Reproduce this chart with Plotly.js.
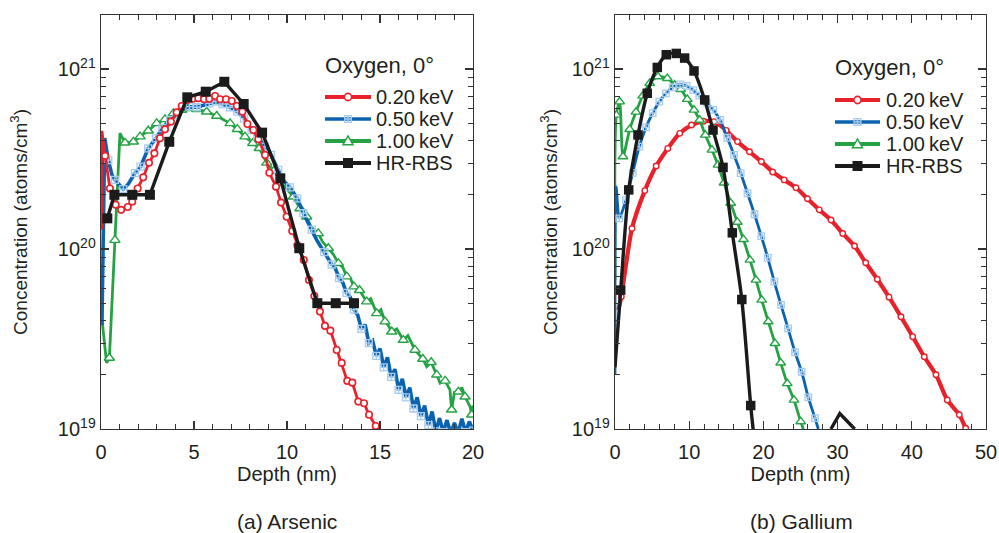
<!DOCTYPE html>
<html>
<head>
<meta charset="utf-8">
<script src="https://cdn.plot.ly/plotly-3.0.1.min.js"></script>
<style>
html,body{margin:0;padding:0;background:#ffffff;}
#chart{width:999px;height:533px;}
</style>
</head>
<body>
<div id="chart"></div>
<script>
// ---------------- DATA ----------------
// (a) Arsenic : depth (nm) and concentration (atoms/cm^3)
const asDepth020 = [0.03,0.05,0.22,0.48,0.79,1.08,1.44,1.68,1.97,2.27,2.58,2.87,3.17,3.44,3.76,4.07,4.34,4.64,4.93,5.23,5.54,5.82,6.13,6.40,6.72,7.03,7.30,7.60,7.87,8.19,8.46,8.82,9.05,9.41,9.68,9.98,10.28,10.56,10.90,11.18,11.47,11.77,12.04,12.33,12.67,12.94,13.24,13.51,13.83,14.14,14.41,14.77,14.96];
const asConc020 = [1.28e20,4.53e20,3.29e20,2.17e20,1.76e20,1.65e20,1.71e20,1.83e20,2.17e20,2.50e20,3.01e20,3.40e20,4.12e20,4.62e20,5.10e20,5.74e20,6.23e20,6.72e20,6.84e20,6.88e20,6.79e20,6.84e20,7.08e20,6.79e20,6.79e20,6.64e20,6.23e20,5.79e20,4.95e20,4.58e20,4.07e20,3.33e20,2.65e20,2.22e20,1.81e20,1.51e20,1.26e20,1.05e20,8.69e19,6.73e19,5.48e19,4.49e19,3.74e19,3.52e19,2.75e19,2.33e19,1.85e19,1.81e19,1.42e19,1.39e19,1.20e19,1.04e19,1.0e19];

const asDepth050 = [0.05,0.20,0.39,0.59,0.75,1.02,1.20,1.47,1.83,2.13,2.54,2.96,3.30,3.71,4.07,4.34,4.75,5.15,5.41,5.82,6.18,6.54,6.94,7.33,7.69,8.10,8.40,8.82,9.14,9.53,9.77,10.16,10.55,10.88,11.33,11.60,
  12.0,12.2,12.4,12.6,12.8,13.0,13.2,13.4,13.6,13.8,14.0,14.2,14.4,14.6,14.8,15.0,15.2,15.4,15.6,15.8,16.0,16.2,16.4,16.6,16.8,17.0,17.2,17.4,17.6,17.8,18.0,18.2,18.4,18.6,18.8,19.0,19.2,19.4,19.6,19.8,20.0];
const asConc050 = [3.78e19,4.14e20,3.12e20,2.58e20,2.42e20,2.27e20,2.15e20,2.30e20,2.64e20,2.87e20,3.62e20,4.12e20,4.69e20,5.21e20,5.55e20,5.92e20,6.18e20,6.13e20,6.23e20,6.44e20,6.58e20,6.39e20,6.13e20,5.79e20,5.32e20,4.58e20,4.24e20,3.70e20,3.33e20,2.75e20,2.42e20,2.20e20,1.91e20,1.58e20,1.28e20,1.12e20,
  9.6e19,8.9e19,8.2e19,7.8e19,6.9e19,6.5e19,5.7e19,5.4e19,4.6e19,4.3e19,3.6e19,3.8e19,3.0e19,3.1e19,2.55e19,2.8e19,2.2e19,2.5e19,1.95e19,2.15e19,1.65e19,1.9e19,1.5e19,1.7e19,1.3e19,1.5e19,1.18e19,1.35e19,1.05e19,1.25e19,0.97e19,1.15e19,0.96e19,1.12e19,0.95e19,1.08e19,0.95e19,1.14e19,0.96e19,1.1e19,0.98e19];

const asDepth100 = [0.05,0.30,0.45,0.75,1.02,1.29,1.74,2.10,2.54,2.99,3.44,3.89,4.34,4.69,5.15,5.68,6.22,6.94,7.33,7.74,8.16,8.51,8.91,9.30,9.72,10.34,10.70,
  11.06,11.30,11.68,11.90,12.22,12.50,12.76,13.00,13.21,13.40,13.60,13.90,14.28,14.50,14.82,15.05,15.27,15.45,15.63,15.90,16.25,16.50,16.88,17.10,17.30,17.51,17.75,18.05,18.23,18.50,18.76,18.85,19.00,19.21,19.40,19.57,19.84,19.93,20.0];
const asConc100 = [4.1e19,2.33e19,2.48e19,1.12e20,4.40e20,3.89e20,3.94e20,4.21e20,4.54e20,4.99e20,5.25e20,5.67e20,5.92e20,6.05e20,5.98e20,5.79e20,5.48e20,4.99e20,4.63e20,4.21e20,3.87e20,3.63e20,3.01e20,2.72e20,2.33e20,1.95e20,1.68e20,
  1.51e20,1.32e20,1.22e20,1.10e20,1.01e20,9.3e19,8.33e19,7.9e19,7.02e19,6.9e19,6.18e19,5.9e19,5.10e19,5.3e19,4.39e19,4.6e19,3.95e19,3.75e19,3.47e19,3.6e19,3.12e19,3.3e19,2.75e19,2.6e19,2.45e19,2.22e19,2.35e19,2.0e19,1.80e19,1.85e19,1.65e19,1.28e19,1.6e19,1.61e19,1.7e19,1.51e19,1.33e19,1.20e19,1.35e19];

const asDepthRBS = [0.34,0.72,1.68,2.63,3.67,4.64,5.63,6.63,7.67,8.66,9.64,10.66,11.63,12.62,13.60];
const asConcRBS  = [1.48e20,2.0e20,2.0e20,2.0e20,3.94e20,6.96e20,7.48e20,8.49e20,6.39e20,4.43e20,2.47e20,1.01e20,5.0e19,5.0e19,5.0e19];

// (b) Gallium
const gaDepth020 = [0.47,0.85,2.29,4.02,5.55,7.12,8.73,10.31,11.93,13.34,14.99,16.51,18.13,19.72,21.25,22.80,24.39,25.94,27.53,29.11,30.69,32.28,33.79,35.35,36.93,38.54,40.12,41.68,43.26,44.78,46.40,47.26];
const gaConc020  = [4.59e19,5.43e19,1.30e20,2.11e20,2.89e20,3.62e20,4.39e20,4.88e20,5.12e20,5.10e20,4.56e20,3.95e20,3.47e20,3.06e20,2.68e20,2.42e20,2.19e20,1.90e20,1.65e20,1.45e20,1.22e20,1.04e20,8.39e19,6.79e19,5.40e19,4.20e19,3.26e19,2.52e19,2.0e19,1.45e19,1.20e19,1.01e19];

const gaDepth050 = [0,0.16,0.58,1.48,2.39,3.27,4.18,5.08,5.97,6.87,7.78,8.76,9.66,10.55,11.36,12.36,13.25,14.15,15.13,16.04,16.94,17.86,18.80,19.72,20.58,21.47,22.37,23.32,24.26,25.16,26.05,26.95,27.40];
const gaConc050  = [2.02e19,2.21e20,1.48e20,1.87e20,2.65e20,3.70e20,4.74e20,5.68e20,6.58e20,7.32e20,7.91e20,8.22e20,8.05e20,7.64e20,7.11e20,6.50e20,5.92e20,5.21e20,4.15e20,3.33e20,2.64e20,2.04e20,1.56e20,1.18e20,8.95e19,6.58e19,4.89e19,3.62e19,2.67e19,2.08e19,1.50e19,1.15e19,1.0e19];

const gaDepth100 = [0,0.18,0.63,1.08,1.98,2.83,3.73,4.68,5.80,7.05,8.05,8.85,9.74,10.65,11.41,12.17,13.07,13.88,14.69,15.59,16.48,17.32,18.19,19.00,19.77,20.66,21.56,22.33,23.22,24.12,25.03,25.38];
const gaConc100  = [6.7e19,5.55e20,6.58e20,3.26e20,4.62e20,5.77e20,7.08e20,8.33e20,9.07e20,8.87e20,8.15e20,7.71e20,6.79e20,5.92e20,5.21e20,4.30e20,3.55e20,2.93e20,2.33e20,1.80e20,1.41e20,1.13e20,8.69e19,6.73e19,5.21e19,3.95e19,2.99e19,2.33e19,1.79e19,1.45e19,1.10e19,1.0e19];

const gaDepthRBS = [0,0.77,1.85,3.10,4.35,5.70,6.91,8.26,9.39,10.65,12.09,13.21,14.56,15.81,17.09,18.29,18.70];
const gaConcRBS  = [2.2e19,5.91e19,2.13e20,4.30e20,7.33e20,1.02e21,1.20e21,1.22e21,1.15e21,9.75e20,6.73e20,4.58e20,2.84e20,1.23e20,5.24e19,1.35e19,0.93e19];
const gaDepthRBSTail = [29.1,30.3,32.3];
const gaConcRBSTail  = [1.0e19,1.22e19,1.0e19];

const seriesNames = ['0.20\u2009keV','0.50\u2009keV','1.00\u2009keV','HR-RBS'];
const legendTitle = 'Oxygen, 0°';
const panelCaptions = ['(a) Arsenic','(b) Gallium'];
const xTicksAs = [0,5,10,15,20];
const xTicksGa = [0,10,20,30,40,50];
const yTickVals = [1e19,1e20,1e21];
const yTickText = ['10<sup>19</sup>','10<sup>20</sup>','10<sup>21</sup>'];

// ---------------- STYLE ----------------
const RED='#e8212b', BLUE='#0b63b0', GREEN='#25a244', BLACK='#1b1b1b', INK='#231f20', LIGHTBLUE='#a5cbef';
const FONT='"Liberation Sans", Arial, Helvetica, sans-serif';
const W=999, H=533;
const px=v=>v/W, py=v=>1-v/H;

function markerSubset(x, y, start, end, gap){
  const mx=[], my=[]; let last=-Infinity;
  for(let i=start;i<x.length-end;i++){
    if(x[i]-last>=gap-1e-9){ mx.push(x[i]); my.push(y[i]); last=x[i]; }
  }
  return [mx,my];
}
function series(x, y, xa, ya, st){
  const [mx,my]=markerSubset(x,y,st.start||0,st.end||0,st.gap||0);
  return [
    {type:'scatter',mode:'lines',x:x,y:y,xaxis:xa,yaxis:ya,showlegend:false,hoverinfo:'skip',
     line:{color:st.color,width:st.lw,shape:st.shape||'linear',smoothing:st.smooth||1}},
    {type:'scatter',mode:'markers',x:mx,y:my,xaxis:xa,yaxis:ya,showlegend:false,hoverinfo:'skip',
     marker:st.marker}
  ];
}

const stAs = [
  {color:RED,lw:2.8,start:2,gap:0.2,marker:{symbol:'circle',size:6.5,color:'#ffffff',line:{color:RED,width:1.6}}},
  {color:BLUE,lw:3.6,start:2,gap:0.3,marker:{symbol:'square-cross-open',size:7,color:LIGHTBLUE,line:{width:1.3}}},
  {color:GREEN,lw:2.8,start:2,gap:0.3,marker:{symbol:'triangle-up',size:9,color:'#ffffff',line:{color:GREEN,width:1.4}}},
  {color:BLACK,lw:3.4,start:0,gap:0,marker:{symbol:'square',size:10,color:BLACK}}
];
const stGa = [
  {color:RED,lw:4.2,start:1,end:0,gap:0,shape:'spline',smooth:0.7,marker:{symbol:'circle',size:5.5,color:'#ffffff',line:{color:RED,width:1.4}}},
  {color:BLUE,lw:2.8,start:2,end:1,gap:0,shape:'spline',smooth:0.7,marker:{symbol:'square-cross-open',size:6.5,color:LIGHTBLUE,line:{width:1.3}}},
  {color:GREEN,lw:2.8,start:1,end:1,gap:0,shape:'spline',smooth:0.7,marker:{symbol:'triangle-up',size:8.5,color:'#ffffff',line:{color:GREEN,width:1.4}}},
  {color:BLACK,lw:3.4,start:1,end:1,gap:0,shape:'spline',smooth:0.8,marker:{symbol:'square',size:9.5,color:BLACK}}
];

const asData = [[asDepth020,asConc020],[asDepth050,asConc050],[asDepth100,asConc100],[asDepthRBS,asConcRBS]];
const gaData = [[gaDepth020,gaConc020],[gaDepth050,gaConc050],[gaDepth100,gaConc100],[gaDepthRBS,gaConcRBS]];

const traces = [];
[2,1,0,3].forEach(i=>{ traces.push(...series(asData[i][0],asData[i][1],'x','y',stAs[i])); });
[0,2,1,3].forEach(i=>{ traces.push(...series(gaData[i][0],gaData[i][1],'x2','y2',stGa[i])); });
traces.push({type:'scatter',mode:'lines',x:gaDepthRBSTail,y:gaConcRBSTail,xaxis:'x2',yaxis:'y2',showlegend:false,hoverinfo:'skip',
  line:{color:BLACK,width:3.4}});

// ---------------- LEGEND (drawn as layout shapes + text) ----------------
const legSym = [
  {kind:'circle',r:3.6,fill:'#ffffff',edge:RED,ew:1.6,lw:4.2,color:RED},
  {kind:'sqcross',r:3.4,fill:'rgba(0,0,0,0)',edge:LIGHTBLUE,ew:1.3,lw:3.6,color:BLUE},
  {kind:'tri',r:5,fill:'#ffffff',edge:GREEN,ew:1.5,lw:4.2,color:GREEN},
  {kind:'square',r:5,fill:BLACK,edge:BLACK,ew:0,lw:4.2,color:BLACK}
];
function buildLegend(titleX, titleY, lineX0, lineX1, textX, rowY, dy){
  const shapes=[], ann=[];
  ann.push({xref:'paper',yref:'paper',x:px(titleX),y:py(titleY),xanchor:'left',yanchor:'middle',showarrow:false,
    text:legendTitle,font:{size:22,color:INK,family:FONT}});
  seriesNames.forEach((name,i)=>{
    const s=legSym[i], yy=py(rowY+i*dy), xm=px((lineX0+lineX1)/2);
    shapes.push({type:'line',xref:'paper',yref:'paper',x0:px(lineX0),x1:px(lineX1),y0:yy,y1:yy,line:{color:s.color,width:s.lw}});
    const base={xref:'paper',yref:'paper',xsizemode:'pixel',ysizemode:'pixel',xanchor:xm,yanchor:yy};
    if(s.kind==='circle'){
      shapes.push(Object.assign({type:'circle',x0:-s.r,x1:s.r,y0:-s.r,y1:s.r,fillcolor:s.fill,line:{color:s.edge,width:s.ew}},base));
    } else if(s.kind==='square'){
      shapes.push(Object.assign({type:'rect',x0:-s.r,x1:s.r,y0:-s.r,y1:s.r,fillcolor:s.fill,line:{width:0}},base));
    } else if(s.kind==='sqcross'){
      shapes.push(Object.assign({type:'rect',x0:-s.r,x1:s.r,y0:-s.r,y1:s.r,fillcolor:s.fill,line:{color:s.edge,width:s.ew}},base));
      shapes.push(Object.assign({type:'path',path:`M${-s.r},0L${s.r},0M0,${-s.r}L0,${s.r}`,line:{color:s.edge,width:s.ew}},base));
    } else {
      const r=s.r;
      shapes.push(Object.assign({type:'path',path:`M${-r},${-0.75*r}L${r},${-0.75*r}L0,${r}Z`,fillcolor:s.fill,line:{color:s.edge,width:s.ew}},base));
    }
    ann.push({xref:'paper',yref:'paper',x:px(textX),y:yy,xanchor:'left',yanchor:'middle',showarrow:false,
      text:name,font:{size:20,color:INK,family:FONT}});
  });
  return {shapes,ann};
}
const legA = buildLegend(323,66,325,371,374,97,22);
const legB = buildLegend(833,67,835,880,884,100,22);

function xAxis(domain, range, ticks, minorStep, anchor){
  return {domain:domain,range:range,anchor:anchor,tickmode:'array',tickvals:ticks,ticks:'inside',ticklen:8,tickwidth:1.2,
    tickcolor:'#333',showline:true,linecolor:'#333',linewidth:1.3,mirror:'ticks',showgrid:false,zeroline:false,
    tickfont:{size:20,color:INK,family:FONT},ticklabelstandoff:5,
    minor:{dtick:minorStep,tick0:0,ticks:'inside',ticklen:5,tickwidth:1,tickcolor:'#333',showgrid:false},
    title:{text:'Depth (nm)',font:{size:20,color:INK,family:FONT},standoff:0}};
}
function yAxis(domain, anchor, standoff){
  return {domain:domain,type:'log',range:[19,21.3],anchor:anchor,tickmode:'array',tickvals:yTickVals,ticktext:yTickText,
    ticks:'inside',ticklen:8,tickwidth:1.2,tickcolor:'#333',showline:true,linecolor:'#333',linewidth:1.3,mirror:'ticks',
    showgrid:false,zeroline:false,tickfont:{size:20,color:INK,family:FONT},
    minor:{dtick:'D1',ticks:'inside',ticklen:5,tickwidth:1,tickcolor:'#333',showgrid:false},
    title:{text:'Concentration (atoms/cm<sup>3</sup>)',font:{size:19,color:INK,family:FONT},standoff:standoff}};
}

const layout = {
  width:W,height:H,margin:{l:0,r:0,t:0,b:0},
  paper_bgcolor:'#ffffff',plot_bgcolor:'#ffffff',
  font:{family:FONT,size:19,color:INK},
  showlegend:false,
  xaxis:xAxis([0.1011,0.4735],[0,20],xTicksAs,1,'y'),
  yaxis:yAxis([0.1951,0.9719],'x',25),
  xaxis2:xAxis([0.6156,0.987],[0,50],xTicksGa,2,'y2'),
  yaxis2:yAxis([0.1951,0.9719],'x2',9),
  shapes:legA.shapes.concat(legB.shapes),
  annotations:legA.ann.concat(legB.ann).concat([
    {xref:'paper',yref:'paper',x:px(287),y:py(521),xanchor:'center',yanchor:'middle',showarrow:false,text:panelCaptions[0],font:{size:21,color:INK,family:FONT}},
    {xref:'paper',yref:'paper',x:px(801),y:py(521),xanchor:'center',yanchor:'middle',showarrow:false,text:panelCaptions[1],font:{size:21,color:INK,family:FONT}}
  ])
};

Plotly.newPlot('chart',traces,layout,{displayModeBar:false,staticPlot:true});
</script>
</body>
</html>
